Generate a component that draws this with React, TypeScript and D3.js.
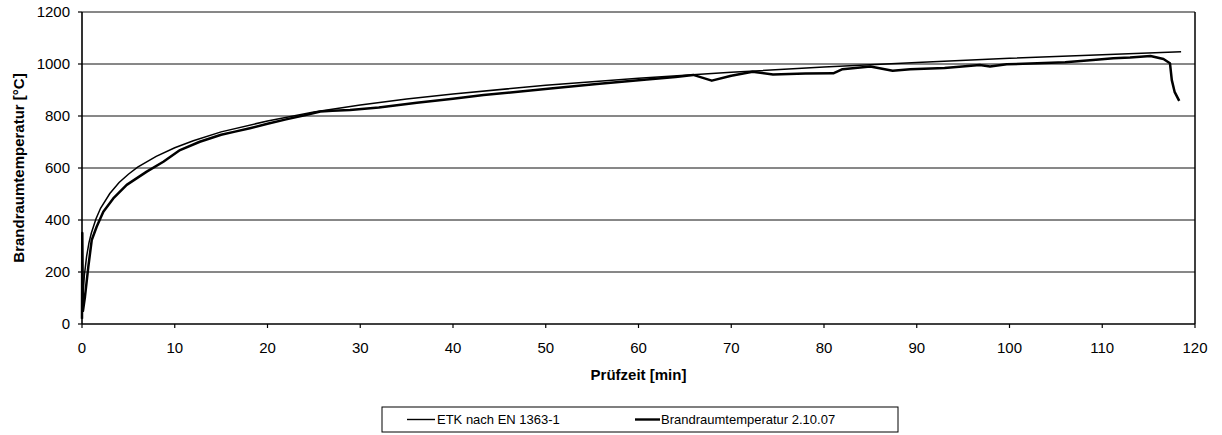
import React from "react";
import * as d3 from "d3";

const xTicks = [0, 10, 20, 30, 40, 50, 60, 70, 80, 90, 100, 110, 120];
const yTicks = [0, 200, 400, 600, 800, 1000, 1200];

const etkTime = [0, 0.1, 0.25, 0.5, 0.75, 1, 1.5, 2, 3, 4, 5, 6, 8, 10, 12, 15, 20, 25, 30, 35, 40, 50, 60, 70, 80, 90, 100, 110, 118.5];
const etkTemp = [20, 108, 185, 261, 312, 349, 404, 445, 502, 544, 576, 603, 645, 678, 705, 739, 781, 815, 842, 865, 885, 918, 945, 968, 988, 1006, 1022, 1036, 1047];

const measTime = [0, 0.03, 0.1, 0.32, 0.68, 1.05, 1.58, 2.3, 3.37, 4.82, 6.98, 8.77, 10.57, 12.7, 15, 16.5, 18.1, 20, 22, 24, 25.7, 27, 28.9, 32, 36.1, 40, 43.3, 47, 50.5, 55.5, 60.9, 64, 65.9, 67.9, 70, 72.3, 74.5, 78, 81, 82, 85, 87.4, 89.3, 93, 96.8, 97.9, 99.7, 103, 106, 109, 111.2, 113, 115.2, 116.6, 117.3, 117.5, 117.8, 118.3];
const measTemp = [20, 350, 50, 105, 220, 323, 374, 432, 483, 535, 586, 624, 669, 701, 728, 740, 753, 770, 787, 803, 817, 820, 823, 833, 851, 866, 881, 893, 906, 923, 940, 950, 958, 936, 955, 970, 960, 963, 964, 980, 990, 974, 980, 985, 996, 990, 999, 1003, 1007, 1015, 1022, 1025, 1031, 1019, 1003, 938, 893, 858];

const legendLabels = ["ETK nach EN 1363-1", "Brandraumtemperatur 2.10.07"];

const W = 1222;
const H = 435;
const L = 82, R = 1195, T = 12, B = 324;
const FONT = "'Liberation Sans', Arial, sans-serif";

export default function App() {
  const x = d3.scaleLinear().domain([0, 120]).range([L, R]);
  const y = d3.scaleLinear().domain([0, 1200]).range([B, T]);
  const line = d3.line<[number, number]>().x((d) => x(d[0])).y((d) => y(d[1]));
  const etk = etkTime.map((t, i) => [t, etkTemp[i]] as [number, number]);
  const meas = measTime.map((t, i) => [t, measTemp[i]] as [number, number]);

  return (
    <svg width={W} height={H} style={{ position: "absolute", left: 0, top: 0, background: "#fff" }}>
      <rect x={0} y={0} width={W} height={H} fill="#fff" />
      {yTicks.filter((v) => v > 0).map((v) => (
        <line key={"g" + v} x1={L} x2={R} y1={y(v)} y2={y(v)} stroke="#111" strokeWidth={1} />
      ))}
      <line x1={R} x2={R} y1={T} y2={B} stroke="#000" strokeWidth={1.5} />
      <line x1={L} x2={L} y1={T} y2={B} stroke="#000" strokeWidth={1.6} />
      <line x1={L} x2={R} y1={B} y2={B} stroke="#000" strokeWidth={1.6} />
      {yTicks.map((v) => (
        <g key={"y" + v}>
          <line x1={L - 4} x2={L} y1={y(v)} y2={y(v)} stroke="#000" strokeWidth={1.2} />
          <text x={L - 12} y={y(v)} dy="0.35em" textAnchor="end" fontFamily={FONT} fontSize={15} fill="#000">{v}</text>
        </g>
      ))}
      {xTicks.map((v) => (
        <g key={"x" + v}>
          <line x1={x(v)} x2={x(v)} y1={B} y2={B + 4} stroke="#000" strokeWidth={1.2} />
          <text x={x(v)} y={B + 29} textAnchor="middle" fontFamily={FONT} fontSize={15} fill="#000">{v}</text>
        </g>
      ))}
      <path d={line(etk) || ""} fill="none" stroke="#000" strokeWidth={1.5} />
      <path d={line(meas) || ""} fill="none" stroke="#000" strokeWidth={2.5} strokeLinejoin="round" />
      <text x={(L + R) / 2} y={380} textAnchor="middle" fontFamily={FONT} fontWeight="bold" fontSize={15} fill="#000">Prüfzeit [min]</text>
      <text transform={`translate(24,${(T + B) / 2}) rotate(-90)`} textAnchor="middle" fontFamily={FONT} fontWeight="bold" fontSize={15} fill="#000">Brandraumtemperatur  [°C]</text>
      <rect x={382} y={407} width={516} height={25} fill="#fff" stroke="#000" strokeWidth={1} />
      <line x1={407} x2={435} y1={419.5} y2={419.5} stroke="#000" strokeWidth={1.4} />
      <text x={437} y={424} fontFamily={FONT} fontSize={13} fill="#000">{legendLabels[0]}</text>
      <line x1={635} x2={660} y1={419.5} y2={419.5} stroke="#000" strokeWidth={2.4} />
      <text x={661} y={424} fontFamily={FONT} fontSize={13} fill="#000">{legendLabels[1]}</text>
    </svg>
  );
}
